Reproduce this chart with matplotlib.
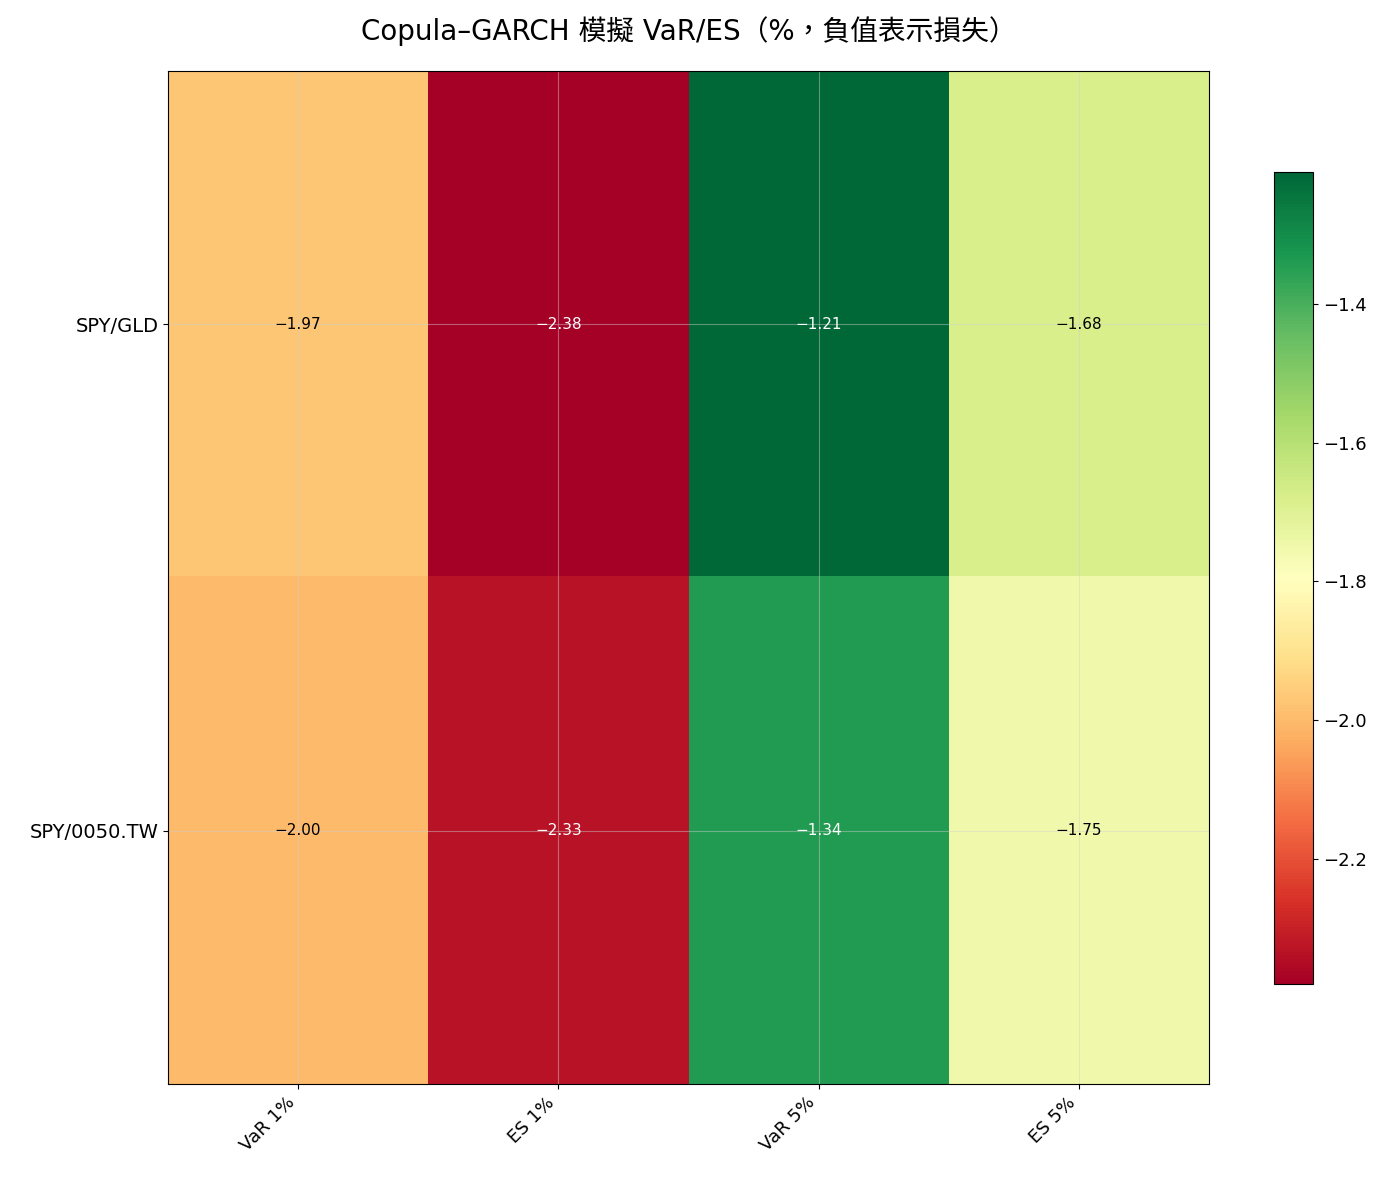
import numpy as np
import matplotlib
matplotlib.use("Agg")
import matplotlib.pyplot as plt

plt.rcParams["font.family"] = ["DejaVu Sans", "Noto Sans CJK TC"]
plt.rcParams["axes.unicode_minus"] = True

pairs   = ["SPY/GLD", "SPY/0050.TW"]
metrics = ["VaR 1%", "ES 1%", "VaR 5%", "ES 5%"]
var_1 = [-1.97, -2.00]
es_1  = [-2.38, -2.33]
var_5 = [-1.21, -1.34]
es_5  = [-1.68, -1.75]

data = np.column_stack([var_1, es_1, var_5, es_5])

fig = plt.figure(figsize=(13.86, 11.84), dpi=100)
ax  = fig.add_axes([0.1212, 0.0845, 0.7511, 0.8556])
cax = fig.add_axes([0.9192, 0.1689, 0.0281, 0.6858])

im = ax.imshow(data, cmap="RdYlGn", aspect="auto")
cb = fig.colorbar(im, cax=cax)
cb.ax.tick_params(labelsize=13)

ax.set_xticks(range(len(metrics)))
ax.set_xticklabels(metrics, rotation=45, ha="right", fontsize=13)
ax.set_yticks(range(len(pairs)))
ax.set_yticklabels(pairs, fontsize=14)
ax.grid(True, color="#d0d0d0", alpha=0.45)

# annotate each cell; white text on the saturated ends of the colormap
for i in range(len(pairs)):
    for j in range(len(metrics)):
        v = data[i, j]
        col = "white" if (v < -2.2 or v > -1.4) else "black"
        ax.text(j, i, f"{v:.2f}".replace("-", "\u2212"), ha="center", va="center",
                color=col, fontsize=11)

ax.set_title("Copula\u2013GARCH 模擬 VaR/ES（%，負值表示損失）", fontsize=20, pad=22)

fig.savefig("out.png", dpi=100)
